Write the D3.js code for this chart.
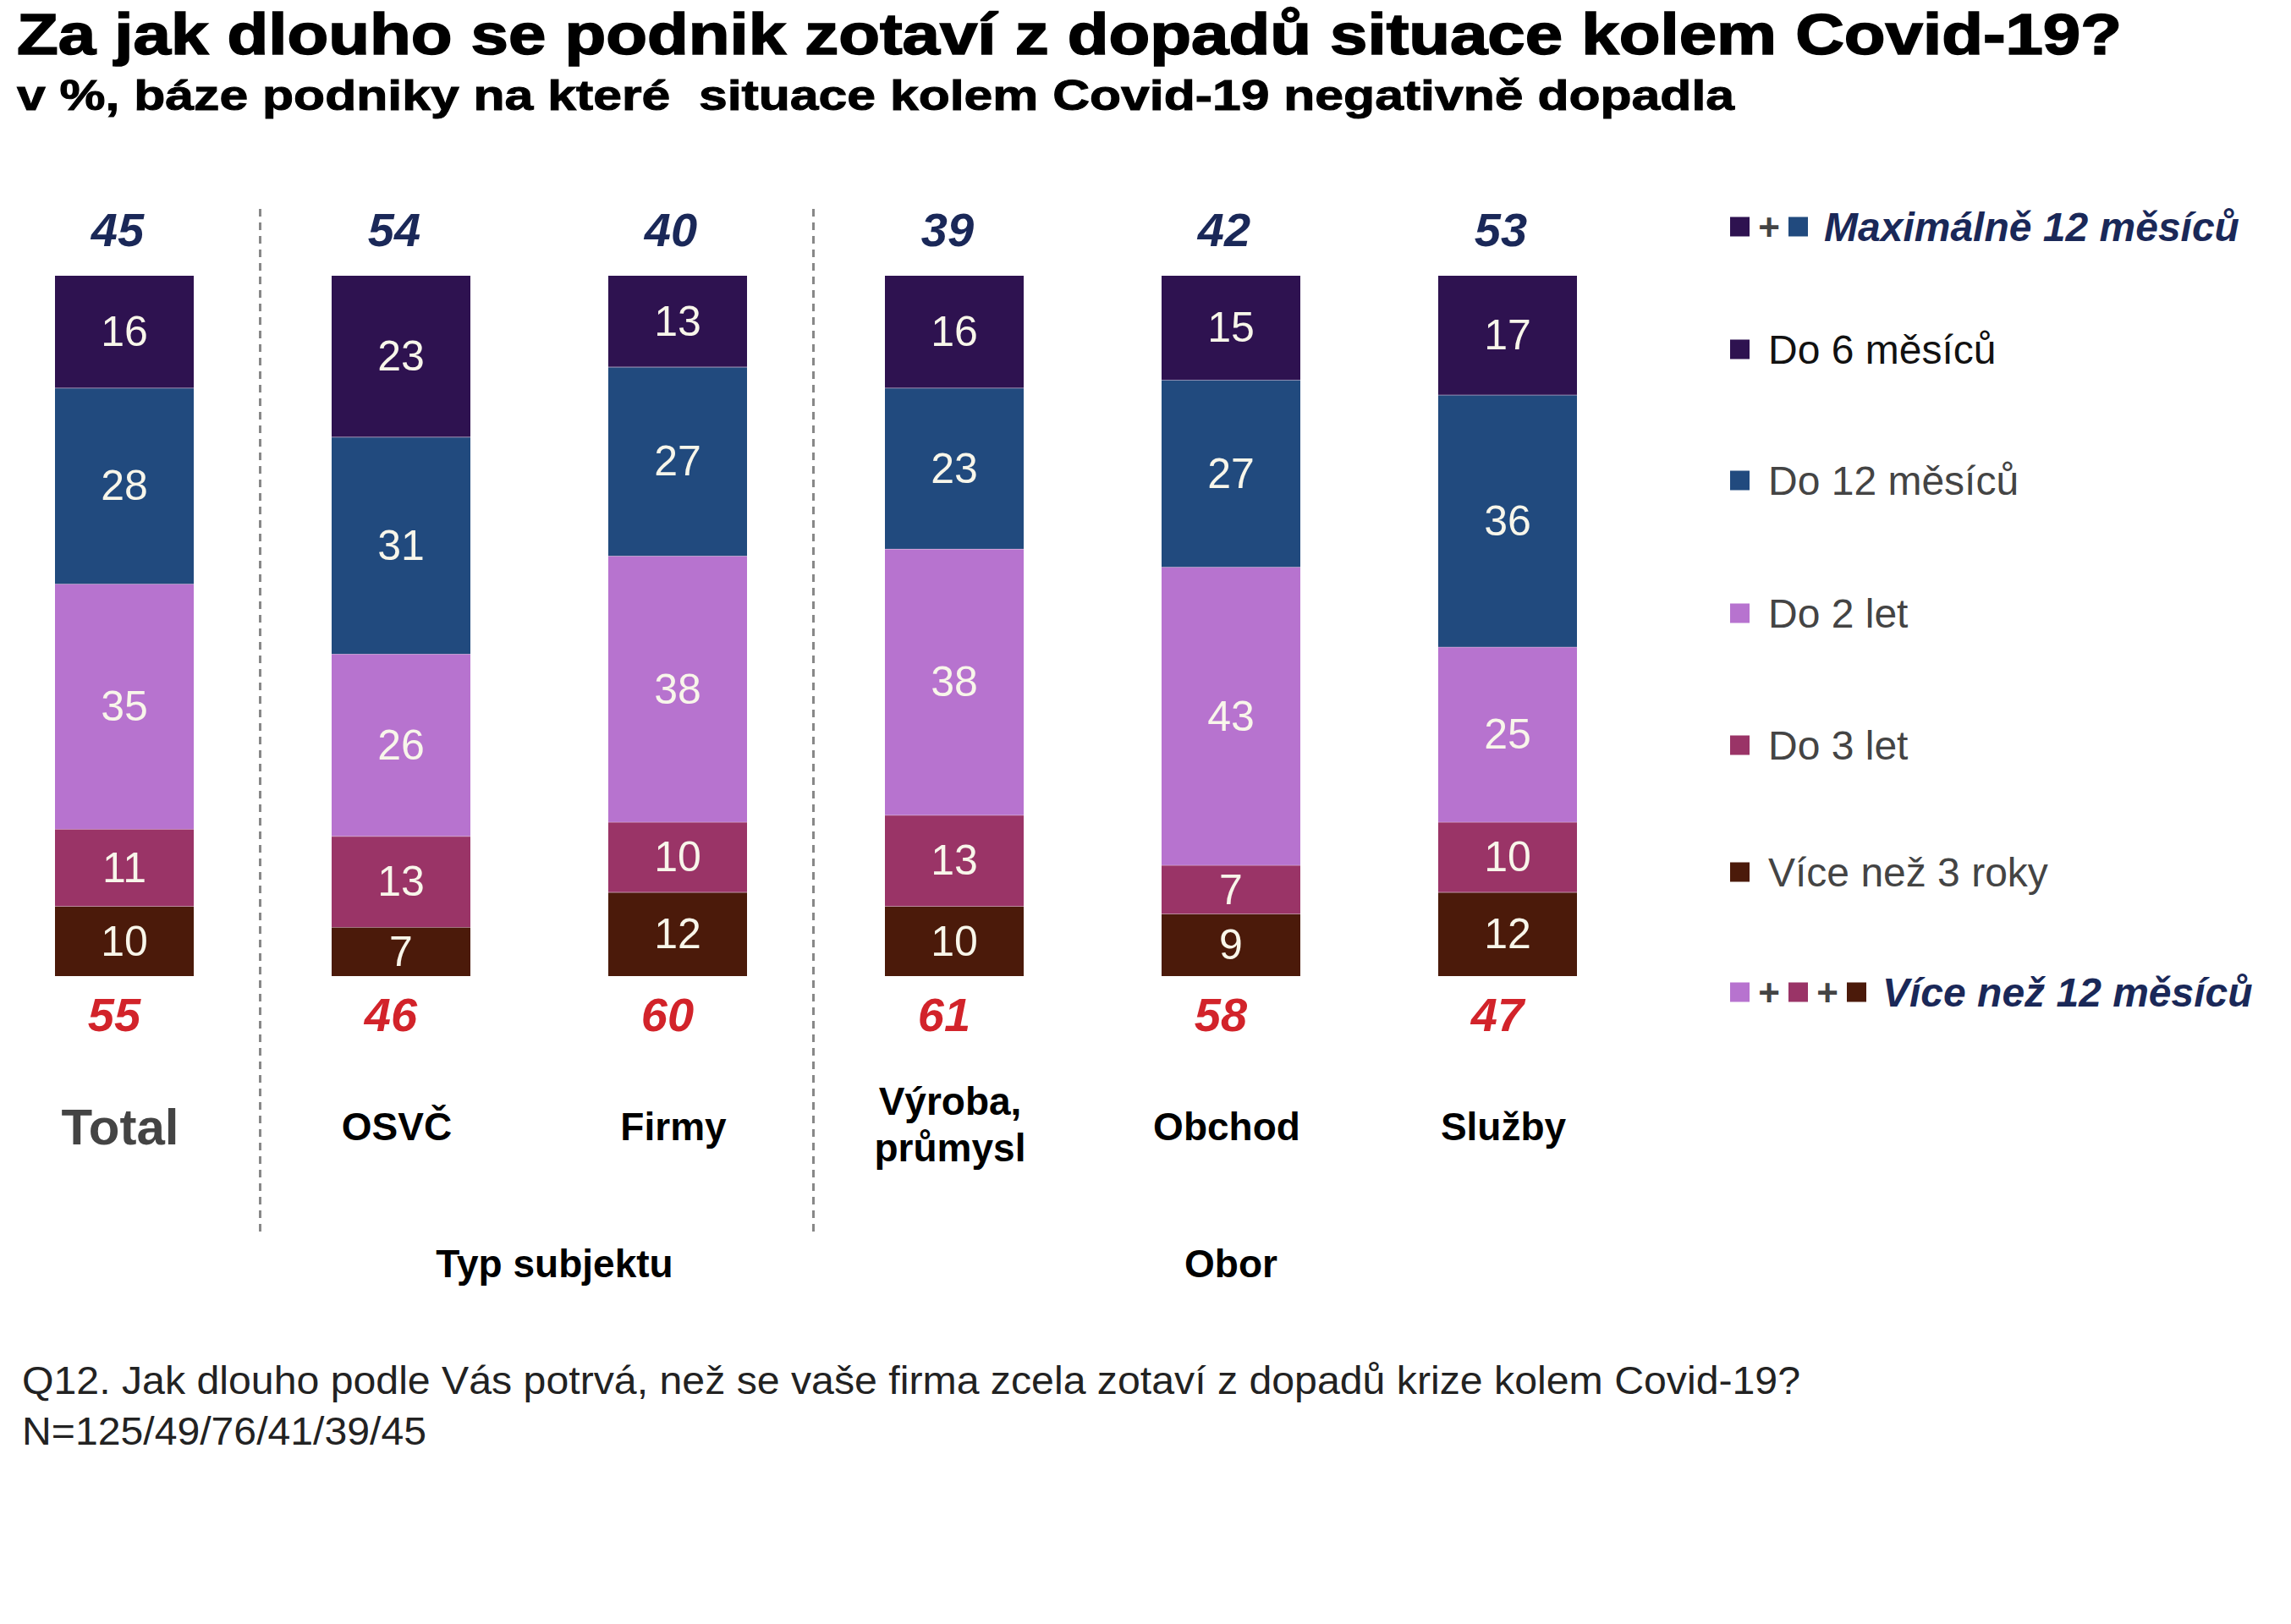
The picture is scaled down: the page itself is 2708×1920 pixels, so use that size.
<!DOCTYPE html>
<html>
<head>
<meta charset="utf-8">
<script src="https://cdn.jsdelivr.net/npm/d3@7"></script>
<style>
  body { margin: 0; background: #fff; }
  text { font-family: "Liberation Sans", Arial, sans-serif; }
  .narrow { font-family: "Liberation Sans Narrow", "Arial Narrow", "Liberation Sans", sans-serif; }
</style>
</head>
<body>
<svg id="chart"></svg>
<script>
// chart data
const categories = ["Total", "OSVČ", "Firmy", "Výroba, průmysl", "Obchod", "Služby"];
const seriesNames = ["Do 6 měsíců", "Do 12 měsíců", "Do 2 let", "Do 3 let", "Více než 3 roky"];
const do6m = [16, 23, 13, 16, 15, 17];
const do12m = [28, 31, 27, 23, 27, 36];
const do2let = [35, 26, 38, 38, 43, 25];
const do3let = [11, 13, 10, 13, 7, 10];
const vice3 = [10, 7, 12, 10, 9, 12];
const max12 = [45, 54, 40, 39, 42, 53];
const vice12 = [55, 46, 60, 61, 58, 47];
const groupNames = ["Typ subjektu", "Obor"];

const colors = ["#2e1250", "#214a7e", "#b773cf", "#9a3467", "#4b1a0a"];

const W = 2708, H = 1920;
const svg = d3.select("#chart").attr("width", W).attr("height", H);

// title (stretched to the width of the original heavy font)
svg.append("text").attr("x", 20).attr("y", 64)
    .attr("textLength", 2488).attr("lengthAdjust", "spacingAndGlyphs")
    .style("font-size", "68px").style("font-weight", "bold")
    .style("stroke", "#000").style("stroke-width", 1.6)
    .text("Za jak dlouho se podnik zotaví z dopadů situace kolem Covid-19?");
svg.append("text").attr("x", 20).attr("y", 130)
    .attr("textLength", 2030).attr("lengthAdjust", "spacingAndGlyphs")
    .attr("xml:space", "preserve")
    .style("font-size", "50px").style("font-weight", "bold")
    .style("stroke", "#000").style("stroke-width", 1.0)
    .text("v %, báze podniky na které  situace kolem Covid-19 negativně dopadla");

// build table rows for stacking
let table = categories.map(function(c, i) {
    return {cat: c, "Do 6 měsíců": do6m[i], "Do 12 měsíců": do12m[i], "Do 2 let": do2let[i],
            "Do 3 let": do3let[i], "Více než 3 roky": vice3[i]};
});

// bottom first
let keys = seriesNames.slice().reverse();
let stack = d3.stack().keys(keys).offset(d3.stackOffsetExpand);
let layers = stack(table);

let x = d3.scalePoint().domain(categories).range([147, 1782]);
let barW = 164;
let y = d3.scaleLinear().domain([0, 1]).range([1154, 326]);
let color = d3.scaleOrdinal().domain(seriesNames).range(colors);

let g = svg.append("g");
let layer = g.selectAll(".layer").data(layers).enter().append("g")
    .attr("fill", function(d) { return color(d.key); });

layer.selectAll("rect").data(function(d) { return d; }).enter().append("rect")
    .attr("x", function(d) { return x(d.data.cat) - barW / 2; })
    .attr("width", barW)
    .attr("y", function(d) { return y(d[1]); })
    .attr("height", function(d) { return y(d[0]) - y(d[1]); });

// thin light lines between segments
layer.filter(function(d) { return d.key != "Do 6 měsíců"; })
    .selectAll("line").data(function(d) { return d; }).enter().append("line")
    .attr("x1", function(d) { return x(d.data.cat) - barW / 2; })
    .attr("x2", function(d) { return x(d.data.cat) + barW / 2; })
    .attr("y1", function(d) { return y(d[1]); })
    .attr("y2", function(d) { return y(d[1]); })
    .style("stroke", "#e8c8e0").style("stroke-width", 1.5).style("opacity", 0.7);

layer.selectAll("text").data(function(d) { return d.map(function(v) { return {v: v, key: d.key}; }); })
    .enter().append("text")
    .attr("x", function(d) { return x(d.v.data.cat); })
    .attr("y", function(d) { return (y(d.v[0]) + y(d.v[1])) / 2; })
    .attr("text-anchor", "middle").attr("dominant-baseline", "central")
    .style("font-size", "50px").style("fill", "#f8f6ea")
    .text(function(d) { return d.v.data[d.key]; });

// sums above and below
g.selectAll(".top").data(max12).enter().append("text")
    .attr("class", "narrow")
    .attr("x", function(d, i) { return x(categories[i]) - 8; })
    .attr("y", 271)
    .attr("text-anchor", "middle").attr("dominant-baseline", "central")
    .style("font-size", "56px").style("font-weight", "bold").style("font-style", "italic")
    .style("fill", "#1a2858")
    .text(function(d) { return d; });

g.selectAll(".bot").data(vice12).enter().append("text")
    .attr("class", "narrow")
    .attr("x", function(d, i) { return x(categories[i]) - 12; })
    .attr("y", 1199)
    .attr("text-anchor", "middle").attr("dominant-baseline", "central")
    .style("font-size", "56px").style("font-weight", "bold").style("font-style", "italic")
    .style("fill", "#d2232a")
    .text(function(d) { return d; });

// category labels
let catLab = g.selectAll(".cat").data(categories).enter().append("text")
    .attr("x", function(d) { return x(d) - 5; })
    .attr("y", function(d) { return d.indexOf(",") > 0 ? 1302 : 1332; })
    .attr("text-anchor", "middle").attr("dominant-baseline", "central")
    .style("font-size", function(d) { return d == "Total" ? "60px" : "46px"; })
    .style("font-weight", "bold")
    .style("fill", function(d) { return d == "Total" ? "#444" : "#000"; });
catLab.each(function(d) {
    let parts = d.split(", ");
    let t = d3.select(this);
    if (parts.length > 1) {
        t.append("tspan").attr("x", x(d) - 5).text(parts[0] + ",");
        t.append("tspan").attr("x", x(d) - 5).attr("dy", 55).text(parts[1]);
    } else {
        t.text(d);
    }
});

// dashed group separators
let seps = [(x(categories[0]) + x(categories[1])) / 2, (x(categories[2]) + x(categories[3])) / 2];
g.selectAll(".sep").data(seps).enter().append("line")
    .attr("x1", function(d) { return d - 3; }).attr("x2", function(d) { return d - 3; })
    .attr("y1", 247).attr("y2", 1456)
    .style("stroke", "#888").style("stroke-width", 3).style("stroke-dasharray", "9,7");

// group labels
let groupX = [(x(categories[1]) + x(categories[2])) / 2 + 18,
              (x(categories[3]) + x(categories[5])) / 2];
g.selectAll(".grp").data(groupNames).enter().append("text")
    .attr("x", function(d, i) { return groupX[i]; })
    .attr("y", 1494)
    .attr("text-anchor", "middle").attr("dominant-baseline", "central")
    .style("font-size", "46px").style("font-weight", "bold")
    .text(function(d) { return d; });

// legend
let legX = 2045, sq = 23, plusGap = 46;
let legRows = [
    {label: "Maximálně 12 měsíců", sw: ["Do 6 měsíců", "Do 12 měsíců"], y: 268, net: true},
    {label: "Do 6 měsíců", sw: ["Do 6 měsíců"], y: 413},
    {label: "Do 12 měsíců", sw: ["Do 12 měsíců"], y: 568},
    {label: "Do 2 let", sw: ["Do 2 let"], y: 725},
    {label: "Do 3 let", sw: ["Do 3 let"], y: 881},
    {label: "Více než 3 roky", sw: ["Více než 3 roky"], y: 1031},
    {label: "Více než 12 měsíců", sw: ["Do 2 let", "Do 3 let", "Více než 3 roky"], y: 1173, net: true}
];
let leg = svg.append("g");
legRows.forEach(function(r) {
    let cx = legX;
    r.sw.forEach(function(s, j) {
        if (j > 0) {
            leg.append("text").attr("x", cx + plusGap / 2).attr("y", r.y)
                .attr("text-anchor", "middle").attr("dominant-baseline", "central")
                .style("font-size", "44px").style("font-weight", "bold").style("fill", "#444")
                .text("+");
            cx += plusGap;
        }
        leg.append("rect").attr("x", cx).attr("y", r.y - sq / 2)
            .attr("width", sq).attr("height", sq).attr("fill", color(s));
        cx += sq;
    });
    leg.append("text")
        .attr("x", r.net ? cx + 19 : 2090).attr("y", r.y)
        .attr("dominant-baseline", "central")
        .style("font-size", "48px")
        .style("font-weight", r.net ? "bold" : "normal")
        .style("font-style", r.net ? "italic" : "normal")
        .style("fill", r.net ? "#1a2858" : (r.label == "Do 6 měsíců" ? "#111" : "#444"))
        .text(r.label);
});

// footnote
svg.append("text").attr("x", 26).attr("y", 1648)
    .attr("textLength", 2102).attr("lengthAdjust", "spacingAndGlyphs")
    .style("font-size", "46px").style("fill", "#222")
    .text("Q12. Jak dlouho podle Vás potrvá, než se vaše firma zcela zotaví z dopadů krize kolem Covid-19?");
svg.append("text").attr("x", 26).attr("y", 1708)
    .attr("textLength", 478).attr("lengthAdjust", "spacingAndGlyphs")
    .style("font-size", "46px").style("fill", "#222")
    .text("N=125/49/76/41/39/45");
</script>
</body>
</html>
